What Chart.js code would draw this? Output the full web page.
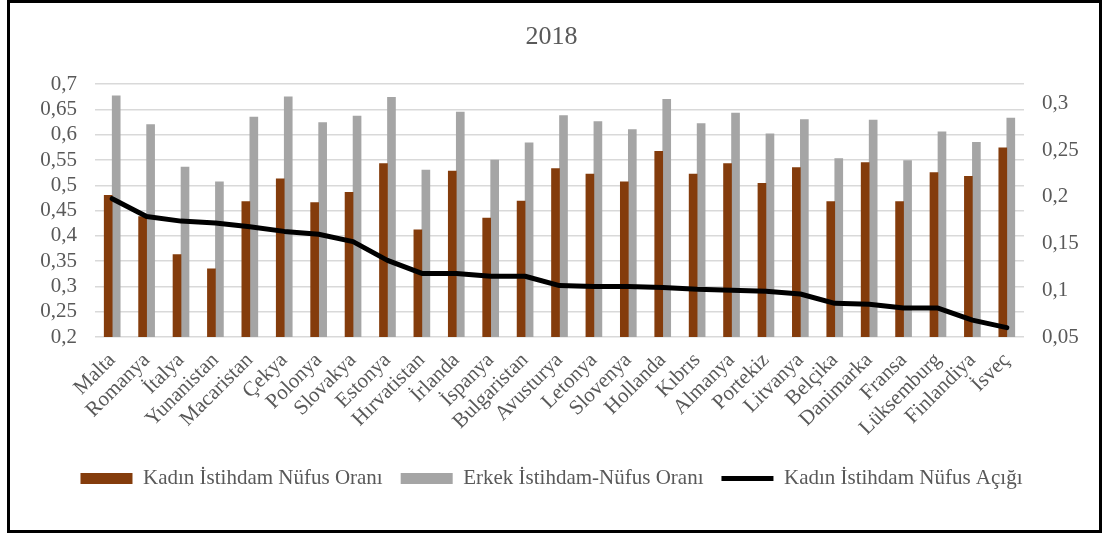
<!DOCTYPE html>
<html>
<head>
<meta charset="utf-8">
<script src="https://cdn.jsdelivr.net/npm/chart.js@4.4.1/dist/chart.umd.min.js"></script>
<style>
  body { margin: 0; background: #fff; }
  .wrap { position: relative; width: 1103px; height: 536px; }
  .frame { position: absolute; left: 7px; top: 0; width: 1089px; height: 527px; border: 3px solid #000; pointer-events: none; }
</style>
</head>
<body>
<div class="wrap">
  <canvas id="chart" width="1103" height="536"></canvas>
  <div class="frame"></div>
</div>
<script>
const countries = ['Malta', 'Romanya', 'İtalya', 'Yunanistan', 'Macaristan', 'Çekya', 'Polonya', 'Slovakya', 'Estonya',
  'Hırvatistan', 'İrlanda', 'İspanya', 'Bulgaristan', 'Avusturya', 'Letonya', 'Slovenya', 'Hollanda', 'Kıbrıs',
  'Almanya', 'Portekiz', 'Litvanya', 'Belçika', 'Danimarka', 'Fransa', 'Lüksemburg', 'Finlandiya', 'İsveç'];
const kadinOran = [0.480, 0.438, 0.363, 0.335, 0.468, 0.513, 0.466, 0.486, 0.543,
  0.412, 0.528, 0.435, 0.469, 0.533, 0.522, 0.507, 0.567, 0.522,
  0.543, 0.504, 0.535, 0.468, 0.545, 0.468, 0.525, 0.518, 0.574];
const erkekOran = [0.677, 0.620, 0.536, 0.507, 0.635, 0.675, 0.624, 0.637, 0.674,
  0.530, 0.645, 0.550, 0.584, 0.638, 0.626, 0.610, 0.670, 0.622,
  0.643, 0.602, 0.630, 0.553, 0.629, 0.549, 0.606, 0.585, 0.633];
const kadinAcik = [0.198, 0.179, 0.174, 0.172, 0.168, 0.163, 0.160, 0.152, 0.132,
  0.118, 0.118, 0.115, 0.115, 0.105, 0.104, 0.104, 0.103, 0.101,
  0.100, 0.099, 0.096, 0.086, 0.085, 0.081, 0.081, 0.068, 0.060];

const fmt = v => Number(v.toFixed(2)).toString().replace('.', ',');
const txt = '#595959';
const serif = 'Liberation Serif';

new Chart(document.getElementById('chart'), {
  data: {
    labels: countries,
    datasets: [
      { type: 'bar', label: 'Kadın İstihdam Nüfus Oranı', data: kadinOran, backgroundColor: '#843C0C',
        barThickness: 8, yAxisID: 'y', order: 1, pointStyle: 'rect' },
      { type: 'bar', label: 'Erkek İstihdam-Nüfus Oranı', data: erkekOran, backgroundColor: '#A5A5A5',
        barThickness: 8, yAxisID: 'y', order: 1, pointStyle: 'rect' },
      { type: 'line', label: 'Kadın İstihdam Nüfus Açığı', data: kadinAcik, borderColor: '#000', backgroundColor: '#000',
        borderWidth: 5, pointRadius: 0, borderCapStyle: 'round', borderJoinStyle: 'round', tension: 0,
        yAxisID: 'y2', order: 0, pointStyle: 'line' }
    ]
  },
  options: {
    responsive: false,
    animation: false,
    layout: { padding: { top: 22, bottom: 37, left: 10, right: 10 } },
    plugins: {
      title: { display: true, text: '2018', color: txt, font: { family: serif, size: 26, weight: 'normal' },
        padding: { top: 0, bottom: 31 } },
      legend: {
        position: 'bottom',
        labels: {
          color: txt, font: { family: serif, size: 21 }, usePointStyle: true, pointStyleWidth: 52, boxHeight: 11,
          padding: 18, sort: (a, b) => a.datasetIndex - b.datasetIndex
        }
      },
      tooltip: { enabled: false }
    },
    scales: {
      x: {
        grid: { display: false },
        border: { display: false },
        ticks: { color: txt, font: { family: serif, size: 21 }, minRotation: 45, maxRotation: 45, autoSkip: false },
        afterFit: s => { s.height = 113; }
      },
      y: {
        position: 'left', min: 0.2, max: 0.7,
        grid: { color: '#D9D9D9', lineWidth: 1.5, drawTicks: false },
        border: { display: false },
        ticks: { stepSize: 0.05, autoSkip: false, color: txt, font: { family: serif, size: 21 }, padding: 18, callback: fmt },
        afterFit: s => { s.width = 85; }
      },
      y2: {
        position: 'right', min: 0.05, max: 0.3205,
        grid: { display: false, drawTicks: false },
        border: { display: false },
        ticks: { stepSize: 0.05, includeBounds: false, autoSkip: false, color: txt, font: { family: serif, size: 21 }, padding: 18, callback: fmt },
        afterFit: s => { s.width = 69; }
      }
    }
  }
});
</script>
</body>
</html>
